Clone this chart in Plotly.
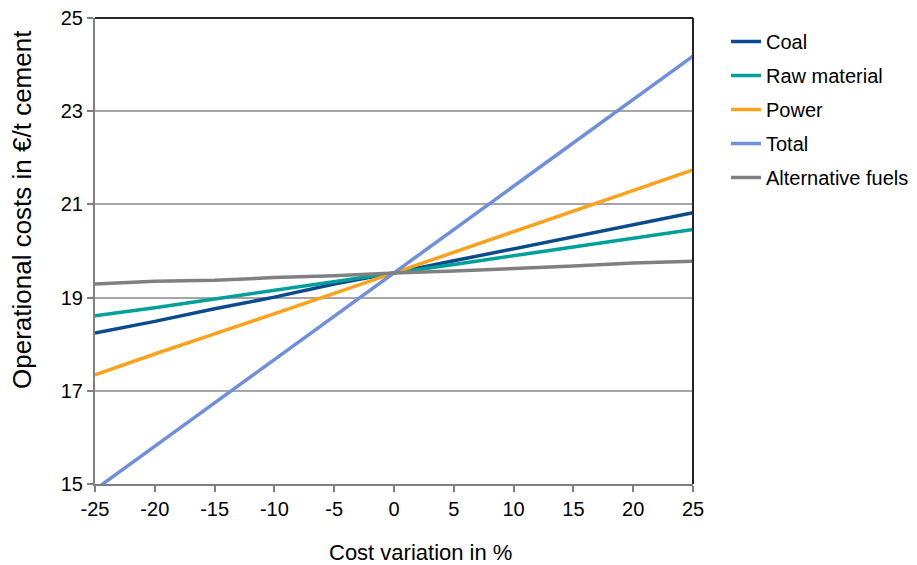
import plotly.graph_objects as go

variation = [-25, -20, -15, -10, -5, 0, 5, 10, 15, 20, 25]
coal = [18.24, 18.49, 18.76, 19.01, 19.29, 19.53, 19.79, 20.05, 20.30, 20.57, 20.82]
raw_material = [18.61, 18.78, 18.97, 19.16, 19.34, 19.53, 19.71, 19.90, 20.09, 20.27, 20.46]
power = [17.34, 17.79, 18.22, 18.65, 19.09, 19.53, 19.97, 20.41, 20.85, 21.29, 21.74]
total = [14.88, 15.81, 16.74, 17.67, 18.60, 19.53, 20.46, 21.39, 22.32, 23.25, 24.18]
alternative_fuels = [19.29, 19.35, 19.37, 19.43, 19.47, 19.53, 19.57, 19.62, 19.68, 19.74, 19.78]

series = [
    ("Coal", coal, "#0B4A8C"),
    ("Raw material", raw_material, "#00A09A"),
    ("Power", power, "#FAA21B"),
    ("Total", total, "#6F8FDD"),
    ("Alternative fuels", alternative_fuels, "#808080"),
]

FONT = "Liberation Sans, Arial, sans-serif"

fig = go.Figure()
for i, (name, vals, color) in enumerate(series):
    fig.add_trace(go.Scatter(
        x=variation, y=vals, name=name, mode="lines",
        line=dict(color=color, width=3.5),
        legendgroup=f"g{i}",
    ))

fig.update_layout(
    width=917, height=565,
    margin=dict(l=95, r=224, t=18, b=81, autoexpand=False),
    paper_bgcolor="white", plot_bgcolor="white",
    font=dict(family=FONT, color="#000000", size=20),
    showlegend=True,
    legend=dict(
        x=(726 - 95) / 598, y=1 - 4 / 466, xanchor="left", yanchor="top",
        font=dict(family=FONT, size=20, color="#000000"),
        traceorder="grouped", tracegroupgap=5,
        bgcolor="rgba(0,0,0,0)",
    ),
    xaxis=dict(
        range=[-25, 25], tickmode="array", tickvals=variation,
        ticktext=[str(v) for v in variation],
        showgrid=False, zeroline=False,
        showline=True, linecolor="#7F7F7F", linewidth=2,
        ticks="outside", ticklen=6, tickcolor="#7F7F7F", tickwidth=1.5,
        tickfont=dict(family=FONT, size=20),
    ),
    yaxis=dict(
        range=[15, 25], tick0=15, dtick=2,
        showgrid=True, gridcolor="#A6A6A6", gridwidth=1.5,
        zeroline=False,
        showline=True, linecolor="#7F7F7F", linewidth=2,
        ticks="outside", ticklen=6, tickcolor="#7F7F7F", tickwidth=1.5,
        tickfont=dict(family=FONT, size=20),
    ),
    shapes=[
        dict(type="line", xref="paper", yref="paper", x0=0, x1=1, y0=1, y1=1,
             line=dict(color="#262626", width=2)),
        dict(type="line", xref="paper", yref="paper", x0=1, x1=1, y0=0, y1=1,
             line=dict(color="#262626", width=2)),
    ],
    annotations=[
        dict(text="Cost variation in %", xref="paper", yref="paper",
             x=(420 - 95) / 598, y=-(552 - 484) / 466,
             xanchor="center", yanchor="middle", showarrow=False,
             font=dict(family=FONT, size=22)),
        dict(text="Operational costs in €/t cement", xref="paper", yref="paper",
             x=(22 - 95) / 598, y=(484 - 210) / 466, textangle=-90,
             xanchor="center", yanchor="middle", showarrow=False,
             font=dict(family=FONT, size=26)),
    ],
)

fig.write_html("out.html")
